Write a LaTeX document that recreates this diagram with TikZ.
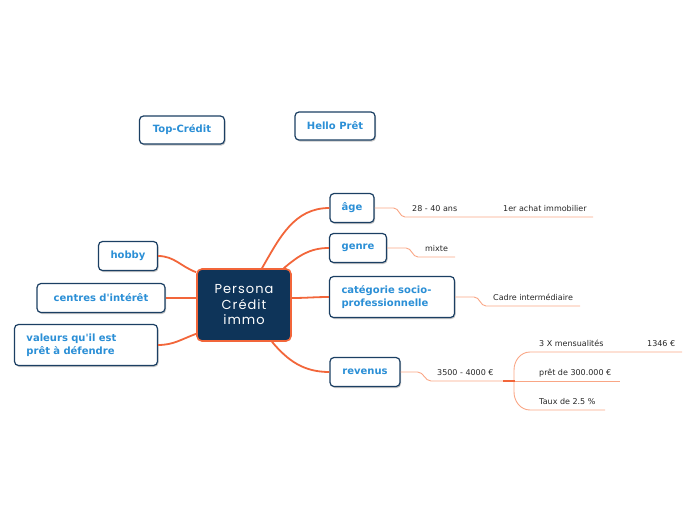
\documentclass[tikz,border=0pt]{standalone}
\usepackage{fontspec}
\setmainfont{DejaVu Sans}[Ligatures=TeXOff]
\newfontfamily\centf[LetterSpace=8]{Poppins}
\usetikzlibrary{shadows,calc}
\definecolor{navy}{HTML}{0E3459}
\definecolor{boxborder}{HTML}{1B3F63}
\definecolor{topictext}{HTML}{2B8FD6}
\definecolor{conn}{HTML}{F2663A}
\definecolor{subline}{HTML}{F9A685}
\tikzset{
  topic/.style={draw=boxborder, line width=1.2pt, fill=white, rounded corners=4pt,
    text=topictext, font=\bfseries\fontsize{10}{13}\selectfont, inner sep=0pt, align=center,
    drop shadow={shadow xshift=1pt, shadow yshift=-1.5pt, fill=black!50, opacity=0.45}},
  wtopic/.style={topic, align=left, inner xsep=12pt, inner ysep=0pt},
  sub/.style={font=\fontsize{8}{9}\selectfont, text=black!85, inner sep=0pt, anchor=base west},
  mainconn/.style={draw=conn, line width=1.8pt},
  subconn/.style={draw=subline, line width=0.9pt},
}
\begin{document}
\begin{tikzpicture}[x=1pt,y=-1pt]
\useasboundingbox (0,0) rectangle (696,520);

% central
\node[draw=conn, line width=1.6pt, fill=navy, rounded corners=5pt, minimum width=94pt, minimum height=72pt,
      text=white, align=center, font=\centf\fontsize{13}{15.5}\selectfont, inner sep=0pt] (central) at (244,305)
      {Persona\\Crédit\\immo};

% floating topics
\node[topic, minimum width=85pt, minimum height=28pt] (top) at (182,130) {Top-Crédit};
\node[topic, minimum width=80pt, minimum height=28pt] (hello) at (335,126) {Hello Prêt};

% right topics
\node[topic, minimum width=44pt, minimum height=29pt] (age) at (352,208) {âge};
\node[topic, minimum width=57pt, minimum height=29pt] (genre) at (358,248) {genre};
\node[wtopic, text width=101pt, minimum height=41pt] (csp) at (392,297) {catégorie socio-\\professionnelle};
\node[topic, minimum width=70pt, minimum height=29pt] (rev) at (365,372) {revenus};

% left topics
\node[topic, minimum width=59pt, minimum height=29pt] (hobby) at (128,256) {hobby};
\node[topic, minimum width=128pt, minimum height=29pt] (ci) at (101,298) {centres d'intérêt};
\node[wtopic, text width=119pt, minimum height=41pt] (val) at (86,345) {valeurs qu'il est\\prêt à défendre};

% main connectors
\draw[mainconn] ($(central.north)+(18,0)$) to[out=60,in=180] (age.west);
\draw[mainconn] ($(central.north east)+(-8,0)$) to[out=40,in=180] (genre.west);
\draw[mainconn] ($(central.east)+(0,-7)$) to[out=0,in=180] (csp.west);
\draw[mainconn] ($(central.south)+(28,0)$) to[out=-50,in=180] (rev.west);
\draw[mainconn] (hobby.east) to[out=0,in=160] ($(central.north west)+(0,4)$);
\draw[mainconn] (ci.east) to[out=0,in=180] ($(central.west)+(0,-7)$);
\draw[mainconn] (val.east) to[out=0,in=200] ($(central.south west)+(0,-8)$);

% sub lines
\coordinate (a1) at (405,217); \coordinate (a2) at (593,217);
\draw[subconn] (age.east) -- ++(19,0) to[out=0,in=180] (a1) -- (a2);
\node[sub] (t28) at (412,211) {28 - 40 ans};
\node[sub] (tach) at (503,211) {1er achat immobilier};

\coordinate (g1) at (418,257); \coordinate (g2) at (455,257);
\draw[subconn] (genre.east) -- ++(19,0) to[out=0,in=180] (g1) -- (g2);
\node[sub] (tmix) at (425,251) {mixte};

\coordinate (c1) at (486,306); \coordinate (c2) at (580,306);
\draw[subconn] (csp.east) -- ++(19,0) to[out=0,in=180] (c1) -- (c2);
\node[sub] (tcad) at (493,300) {Cadre intermédiaire};

\coordinate (r1) at (431,381); \coordinate (r2) at (515,381);
\draw[subconn] (rev.east) -- ++(17,0) to[out=0,in=180] (r1) -- (r2);
\node[sub] (t35) at (437,375) {3500 - 4000 €};

\coordinate (b1) at (530,352); \coordinate (b1e) at (682,352);
\coordinate (b2e) at (620,381);
\coordinate (b3) at (530,410); \coordinate (b3e) at (605,410);
\draw[subconn] (b1e) -- (b1) to[out=180,in=90] (514,370) -- (514,392) to[out=-90,in=180] (b3) -- (b3e);
\draw[subconn] (r2) -- (b2e);
\draw[draw=conn, line width=1.6pt] (503,381) -- (r2);
\node[sub] (tmen) at (539,346) {3 X mensualités};
\node[sub] (t1346) at (647,346) {1346 €};
\node[sub] (tpret) at (539,375) {prêt de 300.000 €};
\node[sub] (ttaux) at (539,404) {Taux de 2.5 \%};
\end{tikzpicture}
\end{document}
